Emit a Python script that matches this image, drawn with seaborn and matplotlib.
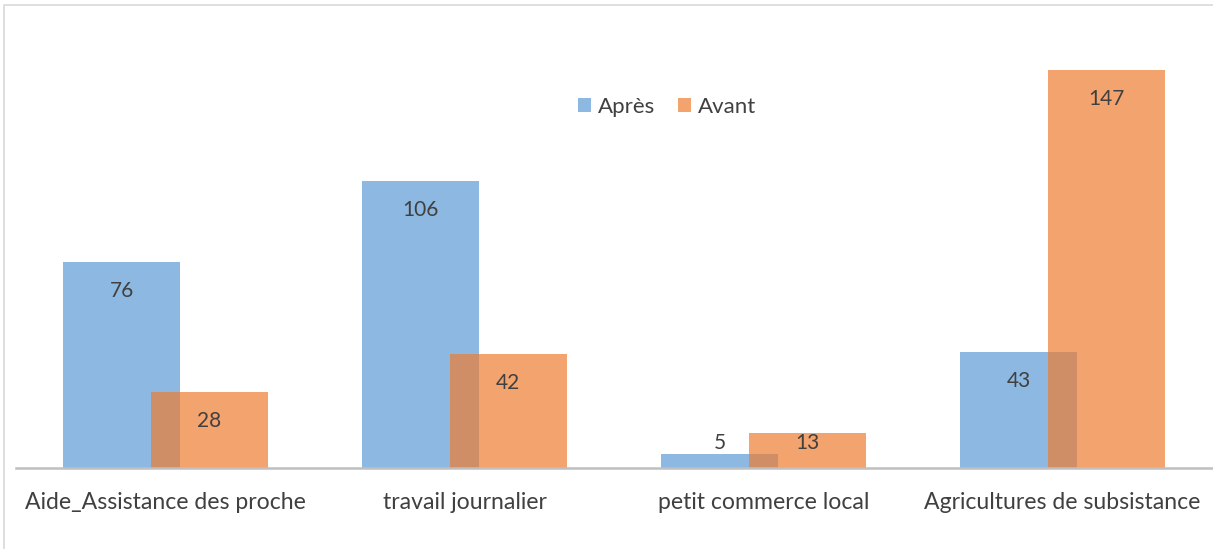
import matplotlib
matplotlib.use("Agg")
import matplotlib.pyplot as plt
import seaborn as sns
import numpy as np
import pandas as pd
from matplotlib.patches import Rectangle, Patch

categories = ["Aide_Assistance des proche", "travail journalier",
              "petit commerce local", "Agricultures de subsistance"]
apres = [76, 106, 5, 43]
avant = [28, 42, 13, 147]
series_names = ["Après", "Avant"]

blue = "#5B9BD5"
orange = "#ED7D31"
text_col = "#404040"

sns.set_theme(style="white")
plt.rcParams["font.family"] = ["Lato", "DejaVu Sans"]

W, H = 1213, 549
fig = plt.figure(figsize=(W / 100, H / 100), dpi=100)
ax = fig.add_axes([16 / W, (H - 468) / H, 1196 / W, 0.7887])

idx = np.arange(len(categories))
off = 0.146
bw = 0.391
df_a = pd.DataFrame({"pos": idx - off, "val": apres})
df_b = pd.DataFrame({"pos": idx + off, "val": avant})
sns.barplot(data=df_a, x="pos", y="val", native_scale=True, width=bw,
            color=blue, alpha=0.7, saturation=1, linewidth=0, ax=ax, zorder=2)
sns.barplot(data=df_b, x="pos", y="val", native_scale=True, width=bw,
            color=orange, alpha=0.7, saturation=1, linewidth=0, ax=ax, zorder=3)

ax.set_xlim(-0.5, 3.5)
ax.set_ylim(0, 160)
ax.set_xlabel("")
ax.set_ylabel("")
ax.set_yticks([])
ax.set_xticks(idx)
ax.set_xticklabels(categories, fontsize=16.6, color=text_col)
ax.tick_params(axis="x", length=0, pad=17)
for s in ["top", "right", "left"]:
    ax.spines[s].set_visible(False)
ax.spines["bottom"].set_color("#BFBFBF")
ax.spines["bottom"].set_linewidth(1.8)
ax.spines["bottom"].set_zorder(5)

def label_y(v):
    return v - 10.7 if v >= 20 else 9.2

for x, v in zip(idx - off, apres):
    ax.text(x, label_y(v), str(v), ha="center", va="center",
            fontsize=15, color=text_col, zorder=6)
for x, v in zip(idx + off, avant):
    ax.text(x, label_y(v), str(v), ha="center", va="center",
            fontsize=15, color=text_col, zorder=6)

handles = [Patch(facecolor=blue, alpha=0.7, edgecolor="none"),
           Patch(facecolor=orange, alpha=0.7, edgecolor="none")]
fig.legend(handles, series_names, loc="center", bbox_to_anchor=(667 / W, 1 - 107 / H),
           ncol=2, frameon=False, fontsize=16, handlelength=0.6, handleheight=0.6,
           handletextpad=0.3, columnspacing=1.0, labelcolor=text_col)

fig.patches.append(Rectangle((4 / W, -0.1), 1.2, 1 - 5 / H + 0.1, transform=fig.transFigure,
                             fill=False, edgecolor="#D9D9D9", linewidth=1.2))

fig.savefig("out.png", dpi=100)
